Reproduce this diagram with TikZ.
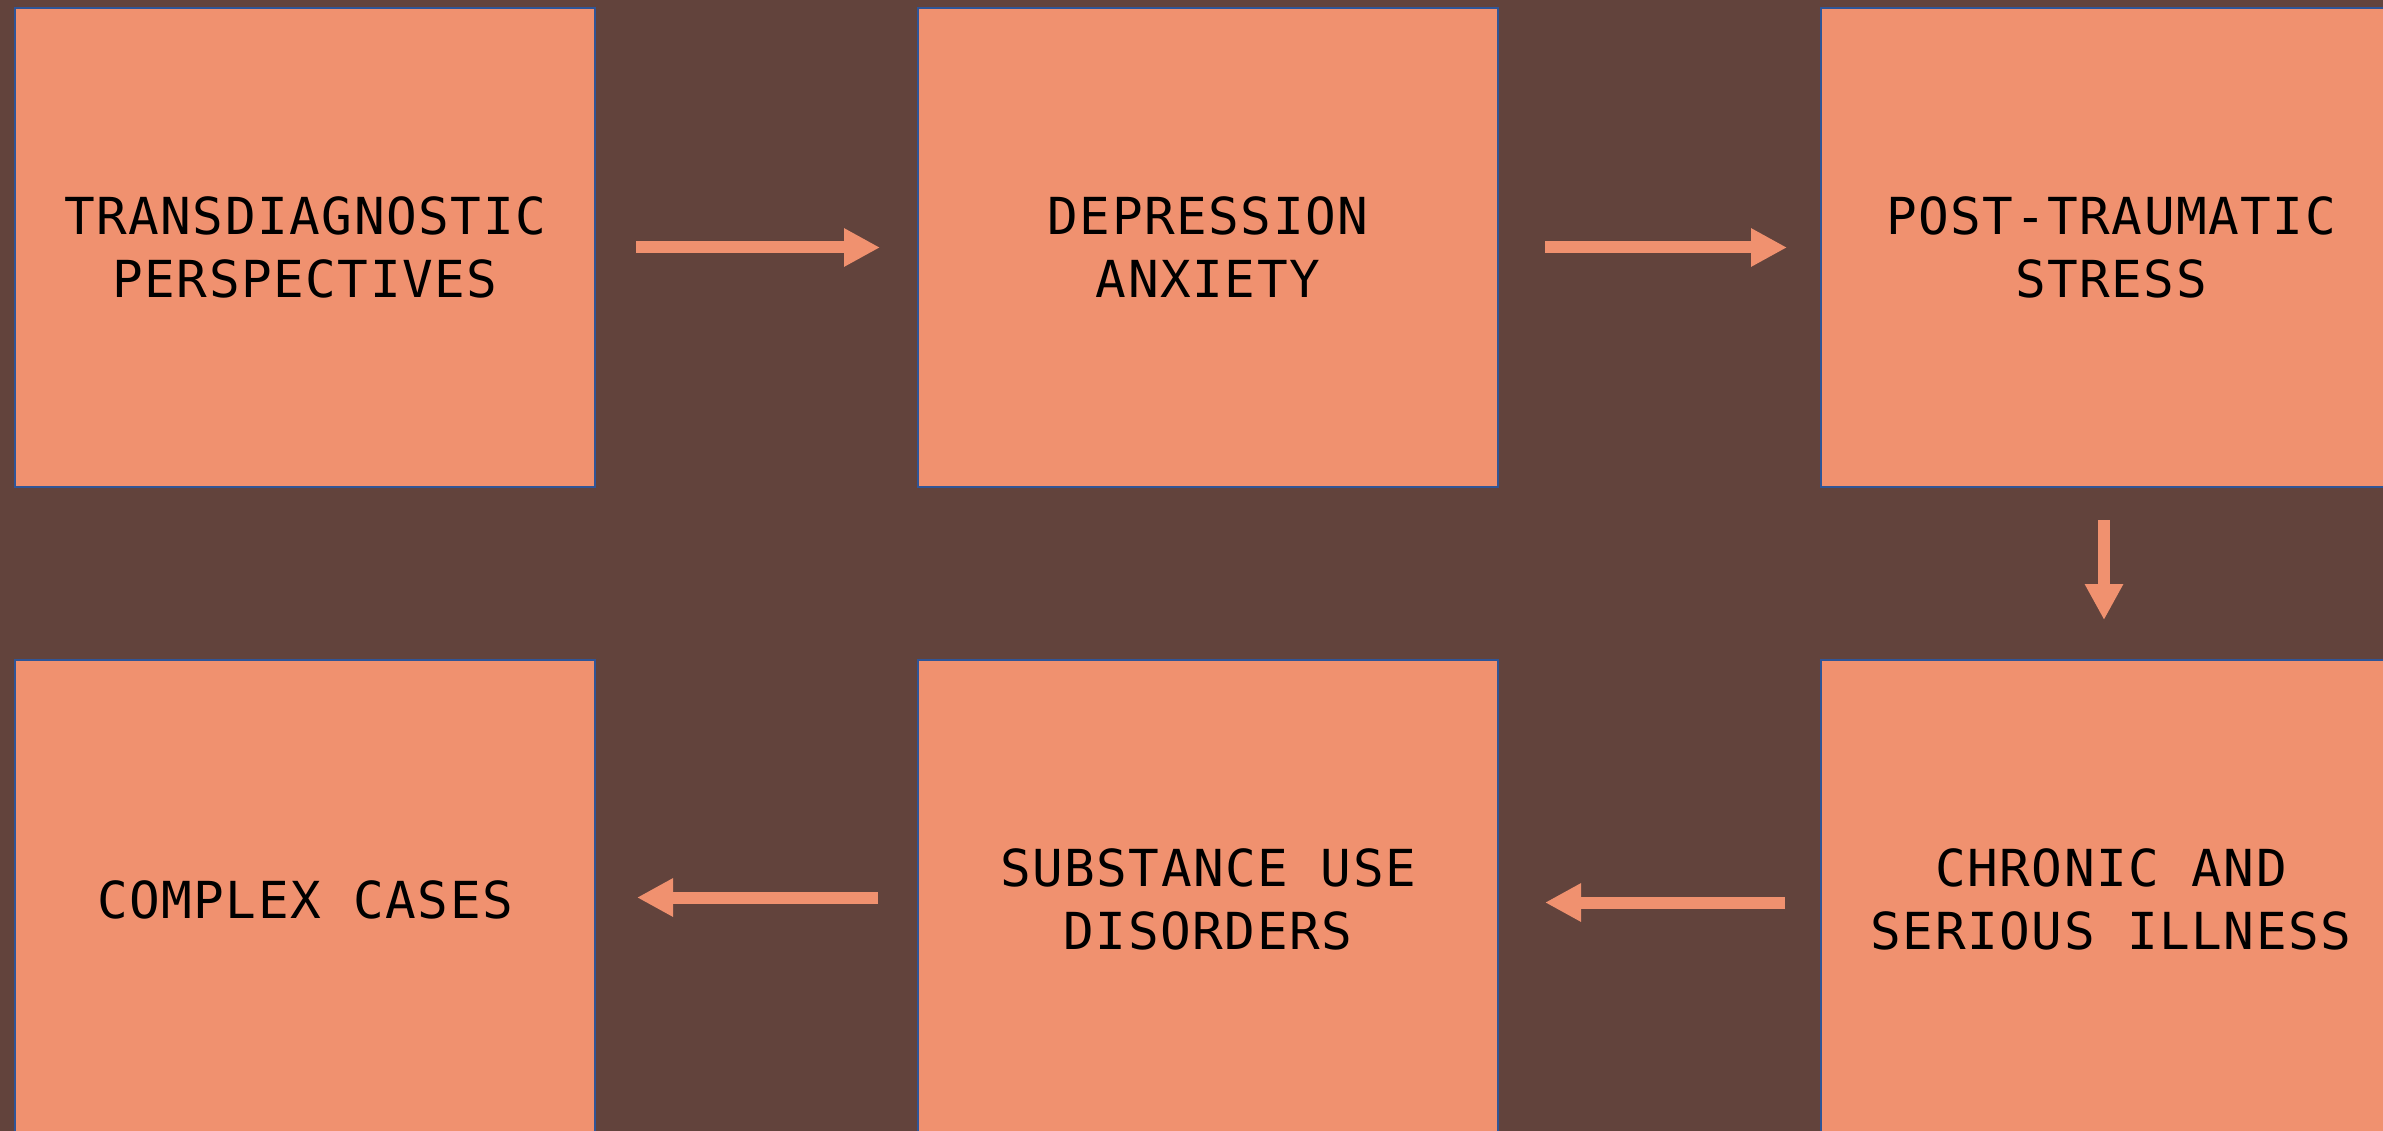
\documentclass[tikz,border=0pt]{standalone}
\usepackage{fontspec}
\usepackage{tikz}
\usetikzlibrary{arrows.meta, positioning}
\newfontfamily\boxfont[LetterSpace=3]{DejaVu Sans Mono}
\definecolor{bgbrown}{HTML}{62433C}
\definecolor{boxsalmon}{HTML}{F0916F}
\definecolor{boxblue}{HTML}{2F5597}
\tikzset{
  stage/.style={rectangle, draw=boxblue, line width=2pt, fill=boxsalmon,
    minimum width=580pt, minimum height=479pt, inner sep=0pt, align=center,
    font=\boxfont\fontsize{51}{63}\selectfont},
  flow/.style={draw=boxsalmon, line width=12pt,
    -{Triangle[length=36pt,width=36pt,fill=boxsalmon]}}
}

\begin{document}
\begin{tikzpicture}[x=1pt, y=1pt, node distance=171pt and 321pt]
\fill[bgbrown] (0,0) rectangle (2383,-1131);
\useasboundingbox (0,0) rectangle (2383,-1131);
\node[stage] (trans) at (305,-247.5) {TRANSDIAGNOSTIC\\PERSPECTIVES};
\node[stage, right=of trans] (dep) {DEPRESSION\\ANXIETY};
\node[stage, right=of dep] (ptsd) {POST-TRAUMATIC\\STRESS};
\node[stage, below=of ptsd] (chronic) {CHRONIC AND\\SERIOUS ILLNESS};
\node[stage, left=of chronic] (subst) {SUBSTANCE USE\\DISORDERS};
\node[stage, left=of subst] (complex) {COMPLEX CASES};


\draw[flow, shorten <=40pt, shorten >=37pt] (trans) -- (dep);
\draw[flow, shorten <=46pt, shorten >=33pt] (dep) -- (ptsd);
\draw[flow, shorten <=32pt, shorten >=39pt] ([xshift=-7pt]ptsd.south) -- ([xshift=-7pt]chronic.north);
\draw[flow, shorten <=35pt, shorten >=46pt] ([yshift=-3pt]chronic.west) -- ([yshift=-3pt]subst.east);
\draw[flow, shorten <=39pt, shorten >=41pt] ([yshift=2pt]subst.west) -- ([yshift=2pt]complex.east);
\end{tikzpicture}
\end{document}
